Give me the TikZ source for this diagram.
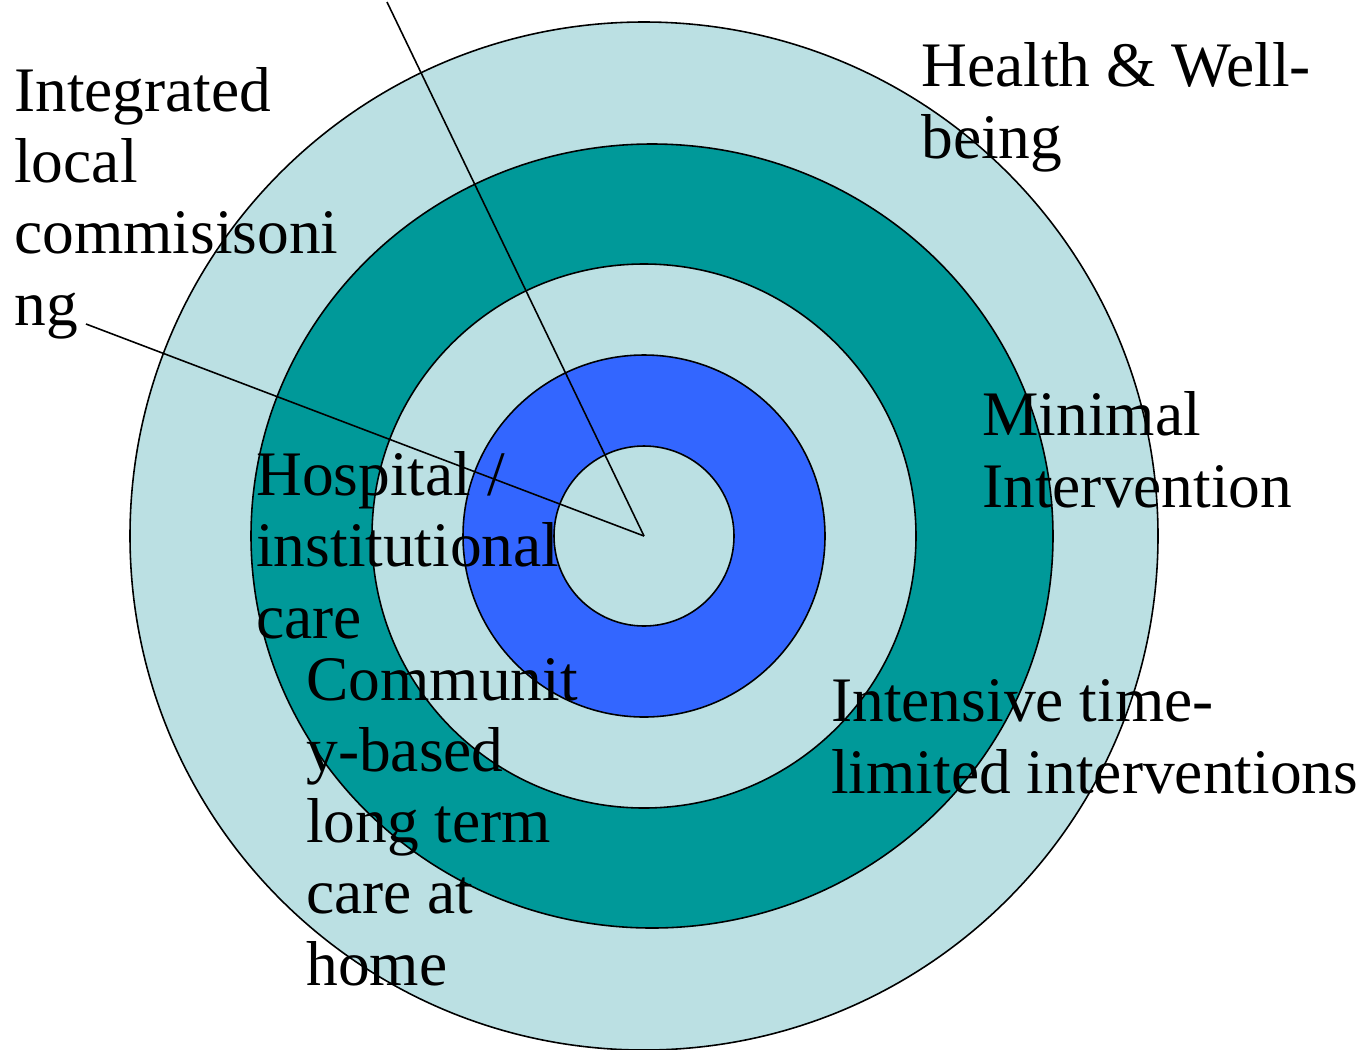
\documentclass[tikz,border=0pt]{standalone}
\usepackage{fontspec}
\setmainfont{Liberation Serif}
\usepackage{tikz}
\definecolor{paleteal}{RGB}{187,224,227}
\definecolor{deepteal}{RGB}{0,153,153}
\definecolor{ringblue}{RGB}{51,102,255}
\begin{document}
\begin{tikzpicture}[x=0.02cm,y=-0.02cm,
  ring/.style={draw=black,line width=0.9pt},
  lbl/.style={font=\fontsize{36.1}{40.5}\selectfont,align=left,anchor=base west,inner sep=0pt}]
\useasboundingbox (0,0) rectangle (1372,1049);
%rings from outside to inside
\path[ring,fill=paleteal] (644,536) circle [radius=514];
\path[ring,fill=deepteal] (652,536) ellipse [x radius=401,y radius=392];
\path[ring,fill=paleteal] (644,536) circle [radius=272];
\path[ring,fill=ringblue] (644,536) circle [radius=181];
\path[ring,fill=paleteal] (644,536) circle [radius=90];
\coordinate (hub) at (644,536);
\coordinate (tipa) at (86,324);
\coordinate (tipb) at (387,2);
\draw[black,line width=0.9pt](tipa)--(hub);
\draw[black,line width=0.9pt](tipb)--(hub);
%labels, placed at the baseline of their last line
\path (14,325) node(ilc)[lbl]{Integrated\\local\\commisisoni\\ng}
(921,158) node(hw)[lbl]{Health \& Well-\\being}
(982,507) node(mi)[lbl]{Minimal\\Intervention}
(256,638) node(hic)[lbl]{Hospital /\\institutional\\care}
(306,985) node(cb)[lbl]{Communit\\y-based\\long term\\care at\\home}
(831,793) node(itl)[lbl]{Intensive time-\\limited interventions};
\end{tikzpicture}
\end{document}
